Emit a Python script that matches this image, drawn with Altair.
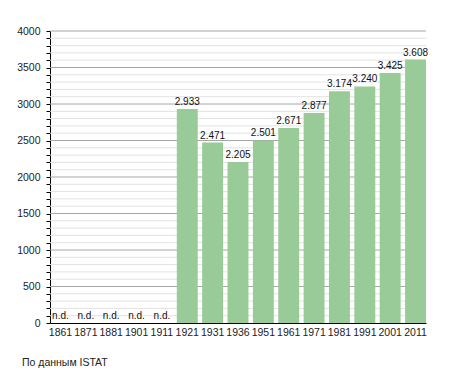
import altair as alt
import pandas as pd

years = ["1861", "1871", "1881", "1901", "1911", "1921", "1931", "1936",
         "1951", "1961", "1971", "1981", "1991", "2001", "2011"]
population = [None, None, None, None, None, 2933, 2471, 2205,
              2501, 2671, 2877, 3174, 3240, 3425, 3608]
grid_values = list(range(0, 4001, 100))
major_values = list(range(0, 4001, 500))
source_note = "По данным  ISTAT"

def fmt(v):
    if v is None:
        return "n.d."
    return f"{v:,}".replace(",", ".")

df = pd.DataFrame({
    "year": years,
    "pop": population,
    "label": [fmt(v) for v in population],
})
df["ypos"] = df["pop"].fillna(0)

grid_df = pd.DataFrame({"g": grid_values})
grid_df["major"] = grid_df["g"].isin(major_values)

FONT = "Liberation Sans"
y_scale = alt.Scale(domain=[0, 4000], nice=False)

y_axis = alt.Axis(values=grid_values, tickCount=len(grid_values), grid=False,
                  labelOverlap=False,
                  labelExpr="datum.value % 500 === 0 ? datum.label : ''",
                  format="d", title=None,
                  domainColor="#000000", tickColor="#000000", tickSize=4,
                  labelFont=FONT, labelFontSize=10.5, labelColor="#222222",
                  labelPadding=6)

minor_grid = alt.Chart(grid_df).transform_filter("!datum.major").mark_rule(
    color="#e2e2e2", strokeWidth=1).encode(
    y=alt.Y("g:Q", scale=y_scale, axis=y_axis, title=None))
major_grid = alt.Chart(grid_df).transform_filter("datum.major && datum.g > 0").mark_rule(
    color="#a6a6a6", strokeWidth=1).encode(
    y=alt.Y("g:Q", scale=y_scale))

x = alt.X("year:N", sort=years, title=None,
          scale=alt.Scale(paddingInner=0.175, paddingOuter=0),
          axis=alt.Axis(labelAngle=0, ticks=False, domainColor="#000000",
                        labelFont=FONT, labelFontSize=10.5, labelColor="#222222",
                        labelPadding=4, grid=False))

bars = alt.Chart(df).mark_bar(color="#98cb98").encode(
    x=x,
    y=alt.Y("pop:Q", scale=y_scale),
)

labels = alt.Chart(df).mark_text(baseline="bottom", dy=-2, font=FONT, fontSize=10,
                                 color="#111111").encode(
    x=alt.X("year:N", sort=years),
    y=alt.Y("ypos:Q", scale=y_scale),
    text="label:N",
)

chart = alt.layer(minor_grid, major_grid, bars, labels).properties(
    width=376, height=292,
    autosize=alt.AutoSizeParams(type="none"),
    padding={"left": 42, "top": 23, "right": 21, "bottom": 50},
    title=alt.TitleParams(source_note, orient="bottom", anchor="start", frame="group",
                          dx=-28, offset=20, font=FONT, fontSize=10.5,
                          fontWeight="normal", color="#222222"),
).configure_view(stroke=None)

chart.save("out.html", embed_options={"renderer": "svg", "actions": False})
